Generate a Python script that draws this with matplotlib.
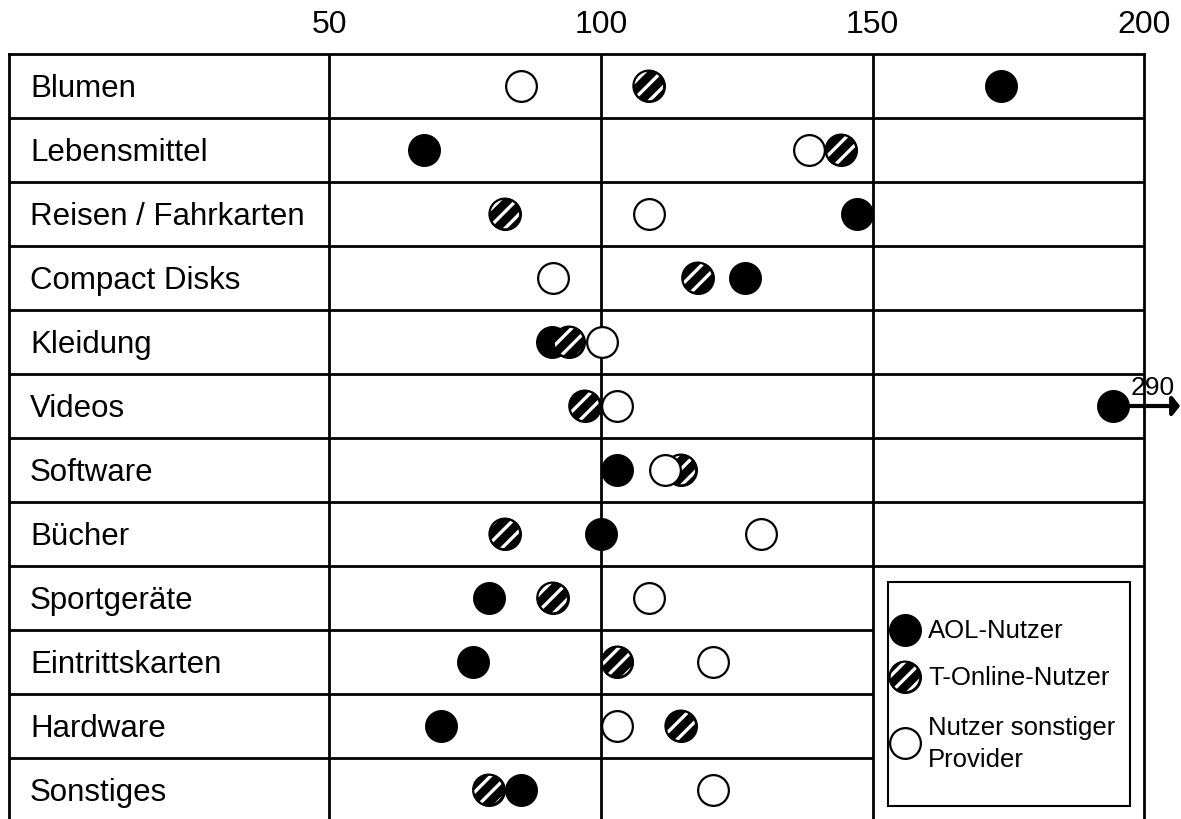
import matplotlib
matplotlib.use("Agg")
import matplotlib.pyplot as plt
from matplotlib.patches import Rectangle

plt.rcParams["font.family"] = ["Liberation Sans", "DejaVu Sans"]
plt.rcParams["hatch.linewidth"] = 2.4

categories = [
    "Blumen",
    "Lebensmittel",
    "Reisen / Fahrkarten",
    "Compact Disks",
    "Kleidung",
    "Videos",
    "Software",
    "Bücher",
    "Sportgeräte",
    "Eintrittskarten",
    "Hardware",
    "Sonstiges",
]
aol = [173.6, 67.5, 147.1, 126.5, 91.0, 194.3, 102.9, 100.0, 79.4, 76.4, 70.5, 85.2]
t_online = [108.8, 144.2, 82.3, 117.8, 94.1, 97.0, 114.7, 82.3, 91.1, 103.0, 114.7, 79.3]
sonstige = [85.3, 138.3, 108.8, 91.2, 100.1, 103.0, 111.8, 129.4, 108.8, 120.6, 103.0, 120.6]
xticks = [50, 100, 150, 200]
overflow_row = "Videos"
overflow_label = "290"
legend_labels = ["AOL-Nutzer", "T-Online-Nutzer", "Nutzer sonstiger\nProvider"]

S = 490
LW = 1.6
XMIN, XMAX = -9.07, 200


def draw_marker(ax, x, y, kind, z, **kw):
    if kind == "aol":
        ax.scatter(x, y, s=S, facecolor="black", edgecolor="black", linewidths=LW, zorder=z, **kw)
    elif kind == "other":
        ax.scatter(x, y, s=S, facecolor="white", edgecolor="black", linewidths=LW, zorder=z, **kw)
    else:
        ax.scatter(x, y, s=S, facecolor="black", edgecolor="black", linewidths=LW, zorder=z, **kw)
        ax.scatter(x, y, s=S, facecolor="none", edgecolor="white", hatch="//",
                   linewidths=0, zorder=z + 0.01, **kw)
        ax.scatter(x, y, s=S, facecolor="none", edgecolor="black", linewidths=LW,
                   zorder=z + 0.02, **kw)


def px(x, y):
    # reference pixel -> axes fraction (used for the legend layout)
    return (x - 8.5) / 1135.7, (823 - y) / 768


fig = plt.figure(figsize=(11.81, 8.2), dpi=100)
ax = fig.add_axes([8.5 / 1181, -3 / 820, 1135.7 / 1181, 768 / 820])
ax.set_xlim(XMIN, XMAX)
ax.set_ylim(len(categories), 0)

for sp in ax.spines.values():
    sp.set_linewidth(2)
ax.set_yticks([])
ax.xaxis.tick_top()
ax.set_xticks(xticks)
ax.tick_params(axis="x", length=0, pad=11, labelsize=23)

# table lines
for v in xticks[:-1]:
    ax.axvline(v, color="black", lw=2, zorder=1)
legend_row = categories.index("Sportgeräte")
for i in range(1, len(categories)):
    if i > legend_row:
        ax.hlines(i, XMIN, 150, color="black", lw=2, zorder=1)
    else:
        ax.axhline(i, color="black", lw=2, zorder=1)

# row labels
for i, cat in enumerate(categories):
    ax.text(-5.1, i + 0.66, cat, fontsize=22.5, ha="left", va="baseline")

# markers, drawn left to right so the right one lies on top
order_override = {"Software": ["aol", "tonline", "other"]}
for i, cat in enumerate(categories):
    pts = {"aol": aol[i], "tonline": t_online[i], "other": sonstige[i]}
    order = order_override.get(cat, sorted(pts, key=pts.get))
    for k, kind in enumerate(order):
        draw_marker(ax, pts[kind], i + 0.5, kind, 5 + k * 0.1)

# off-scale value
r = categories.index(overflow_row)
ax.annotate("", xy=(206.6, r + 0.5), xytext=(aol[r], r + 0.5),
            arrowprops=dict(arrowstyle="-|>,head_length=0.25,head_width=0.32",
                            color="black", lw=3, mutation_scale=18,
                            shrinkA=0, shrinkB=0),
            annotation_clip=False, zorder=4)
ax.text(201.6, r + 0.31, overflow_label, fontsize=19, ha="center", va="baseline",
        zorder=8, clip_on=False)

# legend box
x0, y0 = px(888, 807)
x1, y1 = px(1130, 583)
ax.add_patch(Rectangle((x0, y0), x1 - x0, y1 - y0, transform=ax.transAxes,
                       facecolor="white", edgecolor="black", lw=1.5, zorder=3))
for kind, lab, yy in zip(["aol", "tonline", "other"], legend_labels, [631, 678, 744]):
    mx, my = px(905, yy)
    draw_marker(ax, mx, my, kind, 6, transform=ax.transAxes)
    tx, ty = px(928, yy)
    ax.text(tx, ty, lab, transform=ax.transAxes, fontsize=18.5, ha="left",
            va="center", linespacing=1.4, zorder=7)

fig.savefig("out.png", dpi=100)
